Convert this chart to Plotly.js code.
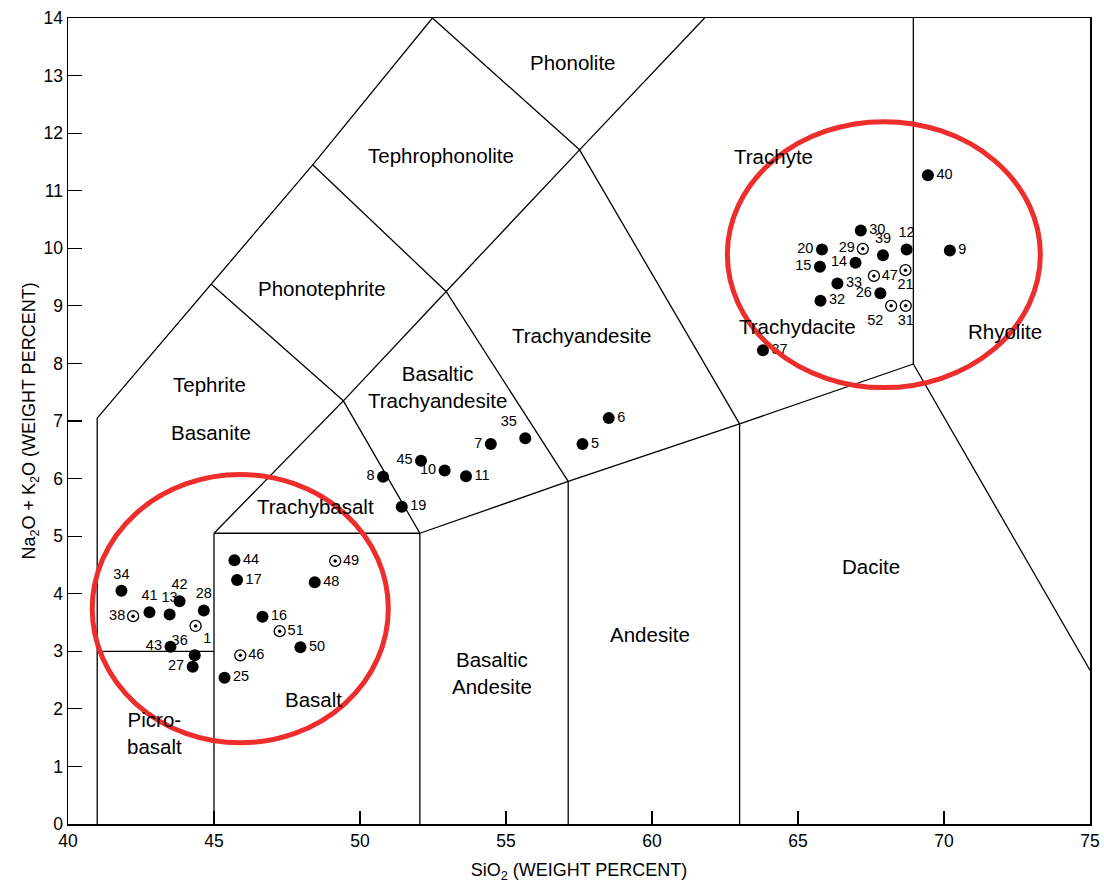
<!DOCTYPE html>
<html>
<head>
<meta charset="utf-8">
<script src="https://cdn.plot.ly/plotly-3.0.1.min.js"></script>
<style>
  html, body { margin: 0; padding: 0; background: #fff; }
  #chart { width: 1104px; height: 892px; }
</style>
</head>
<body>
<div id="chart"></div>
<script>
// ---------- Data ----------
// Filled samples
const filledIds  = ['1','5','6','7','8','9','10','11','12','13','14','15','16','17','19','20','25','26','27','28','30','32','33','34','35','37','39','40','41','42','43','44','45','48','50'];
const filledSiO2 = [44.34,57.62,58.52,54.48,50.79,70.20,52.90,53.63,68.72,43.48,66.97,65.75,46.66,45.79,51.43,65.82,45.36,67.82,44.27,44.65,67.15,65.77,66.35,41.83,55.66,63.80,67.91,69.45,42.79,43.82,43.51,45.70,52.09,48.45,47.96];
const filledAlk  = [2.93,6.60,7.05,6.60,6.03,9.96,6.14,6.04,9.98,3.64,9.75,9.68,3.60,4.24,5.51,9.98,2.54,9.22,2.73,3.71,10.31,9.09,9.39,4.05,6.70,8.23,9.88,11.27,3.68,3.87,3.08,4.58,6.31,4.20,3.07];
const filledLabelPos = ['top right','middle right','middle right','middle left','middle left','middle right','middle left','middle right','top center','top center','middle left','middle left','middle right','middle right','middle right','middle left','middle right','middle left','middle left','top center','middle right','middle right','middle right','top center','top left','middle right','top center','middle right','top center','top center','middle left','middle right','middle left','middle right','middle right'];

// Open (dotted circle) samples
const openIds  = ['21','29','31','36','38','46','47','49','51','52'];
const openSiO2 = [68.68,67.22,68.69,44.37,42.23,45.90,67.60,49.15,47.25,68.19];
const openAlk  = [9.62,9.99,9.00,3.44,3.61,2.93,9.52,4.57,3.35,9.00];
const openLabelPos = ['bottom center','middle left','bottom center','bottom left','middle left','middle right','middle right','middle right','middle right','bottom left'];

// TAS field boundaries (SiO2, Na2O+K2O); null separates segments
const boundaryX = [41,41,null, 41,45,null, 45,45,null, 45,52.05,null, 52.05,52.05,null,
  52.05,57.13,63.0,68.95,null, 57.13,57.13,null, 63.0,63.0,null, 68.95,68.95,null, 68.95,75,null,
  41,44.9,48.38,52.48,null, 45,49.43,52.05,null, 44.9,49.43,null, 49.43,52.95,null,
  48.38,52.95,null, 52.95,57.13,null, 52.48,57.52,null, 52.95,57.52,null, 57.52,61.8,null, 57.52,63.0];
const boundaryY = [0,7.05,null, 3,3,null, 0,5.05,null, 5.05,5.05,null, 0,5.05,null,
  5.05,5.95,6.95,7.99,null, 0,5.95,null, 0,6.95,null, 7.99,14,null, 7.99,2.67,null,
  7.05,9.38,11.45,14,null, 5.05,7.35,5.05,null, 9.38,7.35,null, 7.35,9.25,null,
  11.45,9.25,null, 9.25,5.95,null, 14,11.71,null, 9.25,11.71,null, 11.71,14,null, 11.71,6.95];

// Field names
const fieldNames = ['Phonolite','Tephrophonolite','Trachyte','Phonotephrite','Trachyandesite','Tephrite','Basanite',
  'Basaltic<br>Trachyandesite','Trachydacite','Rhyolite','Trachybasalt','Dacite','Andesite','Basaltic<br>Andesite','Picro-<br>basalt','Basalt'];
const fieldX = [57.28,52.79,64.15,48.71,57.6,44.85,44.88,52.65,64.97,72.1,48.47,67.5,59.94,54.53,42.96,48.4];
const fieldY = [13.22,11.61,11.59,9.3,8.48,7.64,6.8,7.59,8.64,8.55,5.51,4.47,3.3,2.63,1.58,2.16];

// Highlight ellipses: centre SiO2, centre alkali, half-width, half-height
const ellipseCX = [45.9, 67.94];
const ellipseCY = [3.74, 9.89];
const ellipseRX = [5.07, 5.36];
const ellipseRY = [2.33, 2.31];

// ---------- Plot ----------
const sans = 'Liberation Sans, Arial, Helvetica, sans-serif';
const labelFont = {family: sans, size: 14.5, color: '#000'};

const traces = [
  {
    x: boundaryX, y: boundaryY, mode: 'lines', type: 'scatter',
    line: {color: '#000', width: 1.3}, hoverinfo: 'skip', showlegend: false
  },
  {
    x: filledSiO2, y: filledAlk, text: filledIds, mode: 'markers+text', type: 'scatter',
    textposition: filledLabelPos, textfont: labelFont,
    marker: {color: '#000', size: 12, symbol: 'circle'}, showlegend: false
  },
  {
    x: openSiO2, y: openAlk, text: openIds, mode: 'markers+text', type: 'scatter',
    textposition: openLabelPos, textfont: labelFont,
    marker: {color: '#fff', size: 11, symbol: 'circle', line: {color: '#000', width: 1.3}}, showlegend: false
  },
  {
    x: openSiO2, y: openAlk, mode: 'markers', type: 'scatter',
    marker: {color: '#000', size: 3.5, symbol: 'circle'}, showlegend: false, hoverinfo: 'skip'
  }
];

const annotations = fieldNames.map((t, i) => ({
  x: fieldX[i], y: fieldY[i], xref: 'x', yref: 'y', text: t, showarrow: false,
  font: {family: sans, size: 20.5, color: '#000'}
}));

const shapes = ellipseCX.map((cx, i) => ({
  type: 'circle', xref: 'x', yref: 'y',
  x0: cx - ellipseRX[i], x1: cx + ellipseRX[i],
  y0: ellipseCY[i] - ellipseRY[i], y1: ellipseCY[i] + ellipseRY[i],
  line: {color: 'rgb(238,45,45)', width: 5}, layer: 'above'
}));

const layout = {
  width: 1104, height: 892,
  margin: {l: 68, r: 14, t: 18, b: 68},
  paper_bgcolor: '#fff', plot_bgcolor: '#fff',
  showlegend: false,
  xaxis: {
    range: [40, 75], dtick: 5, tick0: 40,
    ticks: 'inside', ticklen: 13, tickwidth: 1.2, tickcolor: '#000',
    showline: true, mirror: true, linecolor: '#000', linewidth: 1.5,
    showgrid: false, zeroline: false,
    tickfont: {family: sans, size: 17.5, color: '#000'},
    title: {text: 'SiO<sub>2</sub> (WEIGHT PERCENT)', standoff: 14,
            font: {family: sans, size: 18, color: '#000'}}
  },
  yaxis: {
    range: [0, 14], dtick: 1, tick0: 0,
    ticks: 'inside', ticklen: 14, tickwidth: 1.2, tickcolor: '#000',
    showline: true, mirror: true, linecolor: '#000', linewidth: 1.5,
    showgrid: false, zeroline: false,
    tickfont: {family: sans, size: 17.5, color: '#000'},
    title: {text: 'Na<sub>2</sub>O + K<sub>2</sub>O (WEIGHT PERCENT)', standoff: 3,
            font: {family: sans, size: 18, color: '#000'}}
  },
  annotations: annotations,
  shapes: shapes
};

Plotly.newPlot('chart', traces, layout, {displayModeBar: false, staticPlot: true});
</script>
</body>
</html>
